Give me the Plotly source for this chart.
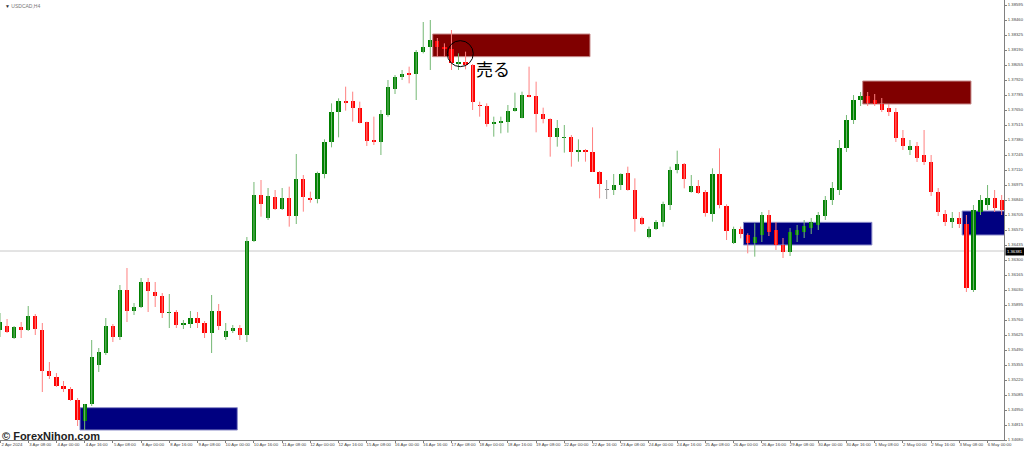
import plotly.graph_objects as go

# ---------------- data (USDCAD, H4) ----------------
bar_index = list(range(143))

open_ = [1.3567, 1.35706, 1.35598, 1.35697, 1.3567, 1.35796, 1.3567, 1.35301, 1.35247, 1.35166,
         1.35139, 1.3504, 1.34851, 1.35004, 1.35355, 1.35463, 1.35706, 1.35607, 1.3603, 1.35841,
         1.35877, 1.36102, 1.36012, 1.35976, 1.35823, 1.35832, 1.35715, 1.35724, 1.35778, 1.35733,
         1.35643, 1.35841, 1.35607, 1.35661, 1.35688, 1.35625, 1.36474, 1.36885, 1.36678, 1.3687,
         1.36759, 1.36858, 1.36696, 1.37029, 1.36861, 1.36846, 1.37074, 1.37359, 1.37629, 1.37731,
         1.37731, 1.37665, 1.37539, 1.37374, 1.37365, 1.37605, 1.37836, 1.37944, 1.3798, 1.37971,
         1.38169, 1.3822, 1.38271, 1.3822, 1.38199, 1.38067, 1.38085, 1.38055, 1.37695, 1.37686,
         1.37524, 1.37536, 1.37545, 1.37644, 1.37581, 1.37785, 1.37776, 1.37611, 1.37569, 1.3741,
         1.37398, 1.3741, 1.37275, 1.37287, 1.37269, 1.37095, 1.3693, 1.3693, 1.36975, 1.3708,
         1.3693, 1.36675, 1.36504, 1.36579, 1.36645, 1.36795, 1.3711, 1.37164, 1.36909, 1.36969,
         1.36909, 1.36714, 1.37074, 1.36789, 1.36456, 1.36579, 1.36525, 1.3645, 1.36525, 1.36705,
         1.3657, 1.36435, 1.36372, 1.36525, 1.36552, 1.36588, 1.36615, 1.36696, 1.3684, 1.3693,
         1.37308, 1.3756, 1.3774, 1.37776, 1.3774, 1.37704, 1.37668, 1.37632, 1.37398, 1.3729,
         1.37326, 1.37245, 1.37182, 1.36912, 1.36714, 1.36642, 1.36678, 1.36624, 1.3603, 1.36732,
         1.36795, 1.36858, 1.3684]
high = [1.35823, 1.35769, 1.35706, 1.35742, 1.35886, 1.35814, 1.35733, 1.35382, 1.35283, 1.35211,
        1.35157, 1.35058, 1.35004, 1.3558, 1.35508, 1.35778, 1.35724, 1.36075, 1.36228, 1.35913,
        1.36138, 1.36138, 1.36102, 1.36003, 1.35994, 1.3585, 1.3576, 1.35841, 1.35832, 1.35751,
        1.35985, 1.35904, 1.35733, 1.35715, 1.35715, 1.36507, 1.37002, 1.3702, 1.36948, 1.3693,
        1.36948, 1.3696, 1.37254, 1.37065, 1.36915, 1.37095, 1.37386, 1.3771, 1.37755, 1.3786,
        1.37815, 1.37725, 1.37545, 1.3759, 1.3765, 1.3792, 1.37965, 1.3801, 1.3804, 1.3819,
        1.38442, 1.3846, 1.38298, 1.3825, 1.3837, 1.3816, 1.38175, 1.38064, 1.37725, 1.3771,
        1.3759, 1.3759, 1.37695, 1.37806, 1.37815, 1.3804, 1.37905, 1.37671, 1.37575, 1.3756,
        1.37515, 1.37425, 1.37386, 1.37299, 1.37494, 1.37101, 1.3702, 1.37074, 1.3708, 1.3714,
        1.37035, 1.3669, 1.366, 1.3666, 1.36825, 1.3714, 1.37284, 1.37173, 1.37065, 1.3702,
        1.3693, 1.37125, 1.37305, 1.36801, 1.366, 1.366, 1.3654, 1.3663, 1.36732, 1.3675,
        1.36642, 1.36498, 1.36588, 1.36615, 1.3666, 1.36678, 1.36732, 1.36876, 1.37002, 1.3738,
        1.37605, 1.37785, 1.37812, 1.37812, 1.37794, 1.37758, 1.37704, 1.37668, 1.3747, 1.3738,
        1.37362, 1.3747, 1.37245, 1.36948, 1.3675, 1.36732, 1.36732, 1.36705, 1.36795, 1.36885,
        1.36975, 1.3693, 1.36885]
low = [1.35607, 1.35643, 1.35589, 1.35598, 1.35661, 1.35625, 1.35112, 1.35229, 1.35157, 1.35112,
       1.35031, 1.34806, 1.3477, 1.34986, 1.35292, 1.35445, 1.35562, 1.3558, 1.35742, 1.35805,
       1.35868, 1.35832, 1.35877, 1.35778, 1.35688, 1.35688, 1.35679, 1.35688, 1.35688, 1.35598,
       1.35463, 1.3567, 1.3558, 1.35643, 1.3558, 1.35562, 1.36462, 1.3669, 1.3666, 1.3675,
       1.3675, 1.366, 1.36624, 1.36735, 1.36816, 1.3681, 1.37035, 1.37314, 1.37404, 1.37644,
       1.37545, 1.3753, 1.37326, 1.37335, 1.37245, 1.3759, 1.37794, 1.3792, 1.3789, 1.3774,
       1.3816, 1.3801, 1.3813, 1.3813, 1.3801, 1.3801, 1.38016, 1.3765, 1.3759, 1.375,
       1.3741, 1.3744, 1.37446, 1.37635, 1.37575, 1.37764, 1.37449, 1.3753, 1.3723, 1.3732,
       1.37266, 1.3714, 1.37185, 1.37185, 1.37092, 1.36855, 1.36849, 1.36885, 1.3693, 1.36924,
       1.36555, 1.36615, 1.36495, 1.3657, 1.366, 1.3675, 1.3708, 1.36945, 1.36906, 1.36894,
       1.3669, 1.36645, 1.36765, 1.3648, 1.36444, 1.36495, 1.3636, 1.3633, 1.36462, 1.36516,
       1.3639, 1.36318, 1.36336, 1.36462, 1.36498, 1.36534, 1.3657, 1.3666, 1.36795, 1.36885,
       1.37272, 1.37524, 1.37686, 1.37686, 1.37686, 1.37632, 1.37596, 1.37362, 1.3729, 1.37245,
       1.37182, 1.37155, 1.36876, 1.36696, 1.36606, 1.36588, 1.36588, 1.36012, 1.36012, 1.36705,
       1.3675, 1.36732, 1.36705]
close = [1.35742, 1.35652, 1.35697, 1.3567, 1.35796, 1.35679, 1.35301, 1.35256, 1.35166, 1.35139,
         1.3504, 1.3486, 1.35004, 1.35427, 1.35472, 1.35706, 1.35607, 1.3603, 1.35841, 1.35877,
         1.36102, 1.36021, 1.35976, 1.35823, 1.35832, 1.35715, 1.35733, 1.35778, 1.35733, 1.35643,
         1.35841, 1.35706, 1.35661, 1.35688, 1.35625, 1.36471, 1.36885, 1.36804, 1.36876, 1.36759,
         1.36858, 1.36696, 1.37029, 1.3687, 1.36846, 1.3708, 1.37359, 1.37635, 1.37734, 1.37716,
         1.37665, 1.37536, 1.37374, 1.37362, 1.37611, 1.3786, 1.37944, 1.37971, 1.37968, 1.38169,
         1.3822, 1.3828, 1.38217, 1.38199, 1.38076, 1.38076, 1.38055, 1.37725, 1.37686, 1.37524,
         1.37536, 1.37542, 1.37644, 1.37665, 1.37785, 1.3777, 1.37611, 1.37566, 1.3741, 1.37491,
         1.37404, 1.37275, 1.37281, 1.37269, 1.37095, 1.36984, 1.3693, 1.36975, 1.37074, 1.3693,
         1.36669, 1.36624, 1.36579, 1.36645, 1.36804, 1.3711, 1.37164, 1.37026, 1.36969, 1.369,
         1.3672, 1.37074, 1.36795, 1.36564, 1.36579, 1.36534, 1.3645, 1.3651, 1.36705, 1.36552,
         1.36435, 1.36372, 1.36552, 1.3657, 1.36606, 1.36642, 1.36705, 1.3684, 1.36948, 1.37308,
         1.3756, 1.3774, 1.37776, 1.37713, 1.37704, 1.3765, 1.37632, 1.37398, 1.37326, 1.37326,
         1.37218, 1.37182, 1.36912, 1.36732, 1.36642, 1.36678, 1.36624, 1.36048, 1.3675, 1.3684,
         1.36858, 1.36768, 1.3675]

# time-axis labels (bar index -> label)
time_tick_index = list(range(0, 141, 4))
time_tick_text = ["2 Apr 2024", "3 Apr 08:00", "4 Apr 00:00", "4 Apr 16:00", "5 Apr 08:00",
                  "8 Apr 00:00", "8 Apr 16:00", "9 Apr 08:00", "10 Apr 00:00", "10 Apr 16:00",
                  "11 Apr 08:00", "12 Apr 00:00", "12 Apr 16:00", "15 Apr 08:00", "16 Apr 00:00",
                  "16 Apr 16:00", "17 Apr 08:00", "18 Apr 00:00", "18 Apr 16:00", "19 Apr 08:00",
                  "22 Apr 00:00", "22 Apr 16:00", "23 Apr 08:00", "24 Apr 00:00", "24 Apr 16:00",
                  "25 Apr 08:00", "26 Apr 00:00", "26 Apr 16:00", "29 Apr 08:00", "30 Apr 00:00",
                  "30 Apr 16:00", "1 May 08:00", "2 May 00:00", "2 May 16:00", "3 May 08:00",
                  "6 May 00:00"]

# price-axis labels
price_ticks = [1.34680, 1.34815, 1.34950, 1.35085, 1.35220, 1.35355, 1.35490, 1.35625, 1.35760,
               1.35895, 1.36030, 1.36165, 1.36300, 1.36435, 1.36570, 1.36705, 1.36840, 1.36975,
               1.37110, 1.37245, 1.37380, 1.37515, 1.37650, 1.37785, 1.37920, 1.38055, 1.38190,
               1.38325, 1.38460, 1.38595]
price_tick_text = ["%.5f" % v for v in price_ticks]

# supply / demand zones
zone_start = [11.34, 61.34, 105.4, 122.3, 136.4]
zone_end = [33.64, 83.64, 123.6, 137.65, 143.0]
zone_top = [1.34971, 1.38334, 1.36639, 1.37911, 1.36741]
zone_bottom = [1.34770, 1.38130, 1.36435, 1.37704, 1.36525]
zone_kind = ["buy", "sell", "buy", "sell", "buy"]

current_level = 1.36381
current_label = "1.36381"

# sell signal marker
signal_index = 65.25
signal_price = 1.38157
signal_text = "売る"
signal_text_index = 69.9
signal_text_price = 1.38022

# ---------------- figure ----------------
UP = "#008000"
DOWN = "#ff0000"
DOJI = "#808080"
UP_WICK = "#74b874"
DOWN_WICK = "#ff8080"
DOJI_WICK = "#a0a0a0"


def kind(o, c):
    if c > o:
        return "up"
    if c < o:
        return "down"
    return "doji"


fig = go.Figure()

# wicks
for k, col in (("up", UP_WICK), ("down", DOWN_WICK), ("doji", DOJI_WICK)):
    xs, ys = [], []
    for i, o, h, l, c in zip(bar_index, open_, high, low, close):
        if kind(o, c) == k:
            xs += [i, i, None]
            ys += [l, h, None]
    fig.add_trace(go.Scatter(x=xs, y=ys, mode="lines", line=dict(color=col, width=1),
                             hoverinfo="skip", showlegend=False))

# bodies
body_base = [min(o, c) for o, c in zip(open_, close)]
body_h = [max(abs(c - o), 0.00009) for o, c in zip(open_, close)]
body_col = [{"up": UP, "down": DOWN, "doji": DOJI}[kind(o, c)] for o, c in zip(open_, close)]
fig.add_trace(go.Bar(x=bar_index, y=body_h, base=body_base, width=0.6,
                     marker=dict(color=body_col, line=dict(width=0)),
                     showlegend=False, hoverinfo="skip"))

# zones (drawn behind the candles)
for x0, x1, t, b, k in zip(zone_start, zone_end, zone_top, zone_bottom, zone_kind):
    fig.add_shape(type="rect", xref="x", yref="y", x0=x0, x1=x1, y0=b, y1=t,
                  fillcolor="#000080" if k == "buy" else "#800000",
                  line=dict(color="#8c8cc8" if k == "buy" else "#c88c8c", width=1),
                  layer="below")

# current price line
fig.add_shape(type="line", xref="paper", yref="y", x0=0, x1=1,
              y0=current_level, y1=current_level,
              line=dict(color="#c8c8c8", width=1), layer="below")

# signal circle
fig.add_shape(type="circle", xref="x", yref="y",
              x0=signal_index - 1.84, x1=signal_index + 1.84,
              y0=signal_price - 0.00117, y1=signal_price + 0.00117,
              line=dict(color="#000000", width=1))

fig.add_annotation(x=signal_text_index, y=signal_text_price, xref="x", yref="y",
                   text=signal_text, showarrow=False,
                   font=dict(family="Noto Sans CJK JP", size=17, color="#000000"))

# price label box on right axis
fig.add_annotation(xref="paper", x=1, xanchor="left", yref="y", y=current_level,
                   text=current_label, showarrow=False, bgcolor="#000000",
                   font=dict(family="Liberation Sans", size=4.2, color="#ffffff"),
                   borderpad=1, xshift=1)

# symbol caption
fig.add_annotation(xref="paper", yref="paper", x=0.003, y=0.997, xanchor="left", yanchor="top",
                   text="<span style='color:#333'>▼</span> <span style='color:#777'>USDCAD,H4</span>",
                   showarrow=False, font=dict(family="Liberation Sans", size=5))

# watermark
fig.add_annotation(xref="paper", yref="paper", x=0.0, y=0.0, xanchor="left", yanchor="middle",
                   yshift=4,
                   text="<b>© ForexNihon.com</b>", showarrow=False,
                   font=dict(family="Liberation Sans", size=11, color="#222222"))

fig.update_layout(
    width=1024, height=449,
    margin=dict(l=0, r=20, t=0, b=9),
    paper_bgcolor="white", plot_bgcolor="white",
    bargap=0, barmode="overlay",
    showlegend=False,
    xaxis=dict(range=[0.0, 142.33], tickmode="array", tickvals=time_tick_index,
               ticktext=time_tick_text, showgrid=False, zeroline=False,
               showline=True, linecolor="#808080", linewidth=1,
               ticks="outside", ticklen=2, tickcolor="#808080", tickangle=0,
               tickfont=dict(family="Liberation Sans", size=4.3, color="#444444"),
               ticklabelshift=12, ticklabelstandoff=-2, automargin=False, fixedrange=True),
    yaxis=dict(range=[1.3468, 1.3864], side="right", tickmode="array",
               tickvals=price_ticks, ticktext=price_tick_text, showgrid=False,
               zeroline=False, showline=True, linecolor="#808080", linewidth=1,
               ticks="outside", ticklen=2, tickcolor="#808080",
               tickfont=dict(family="Liberation Sans", size=4.2, color="#444444"),
               automargin=False, fixedrange=True),
)

fig.write_html("out.html", config={"displayModeBar": False},
               post_script="document.body.style.margin='0';document.body.style.overflow='hidden';")
